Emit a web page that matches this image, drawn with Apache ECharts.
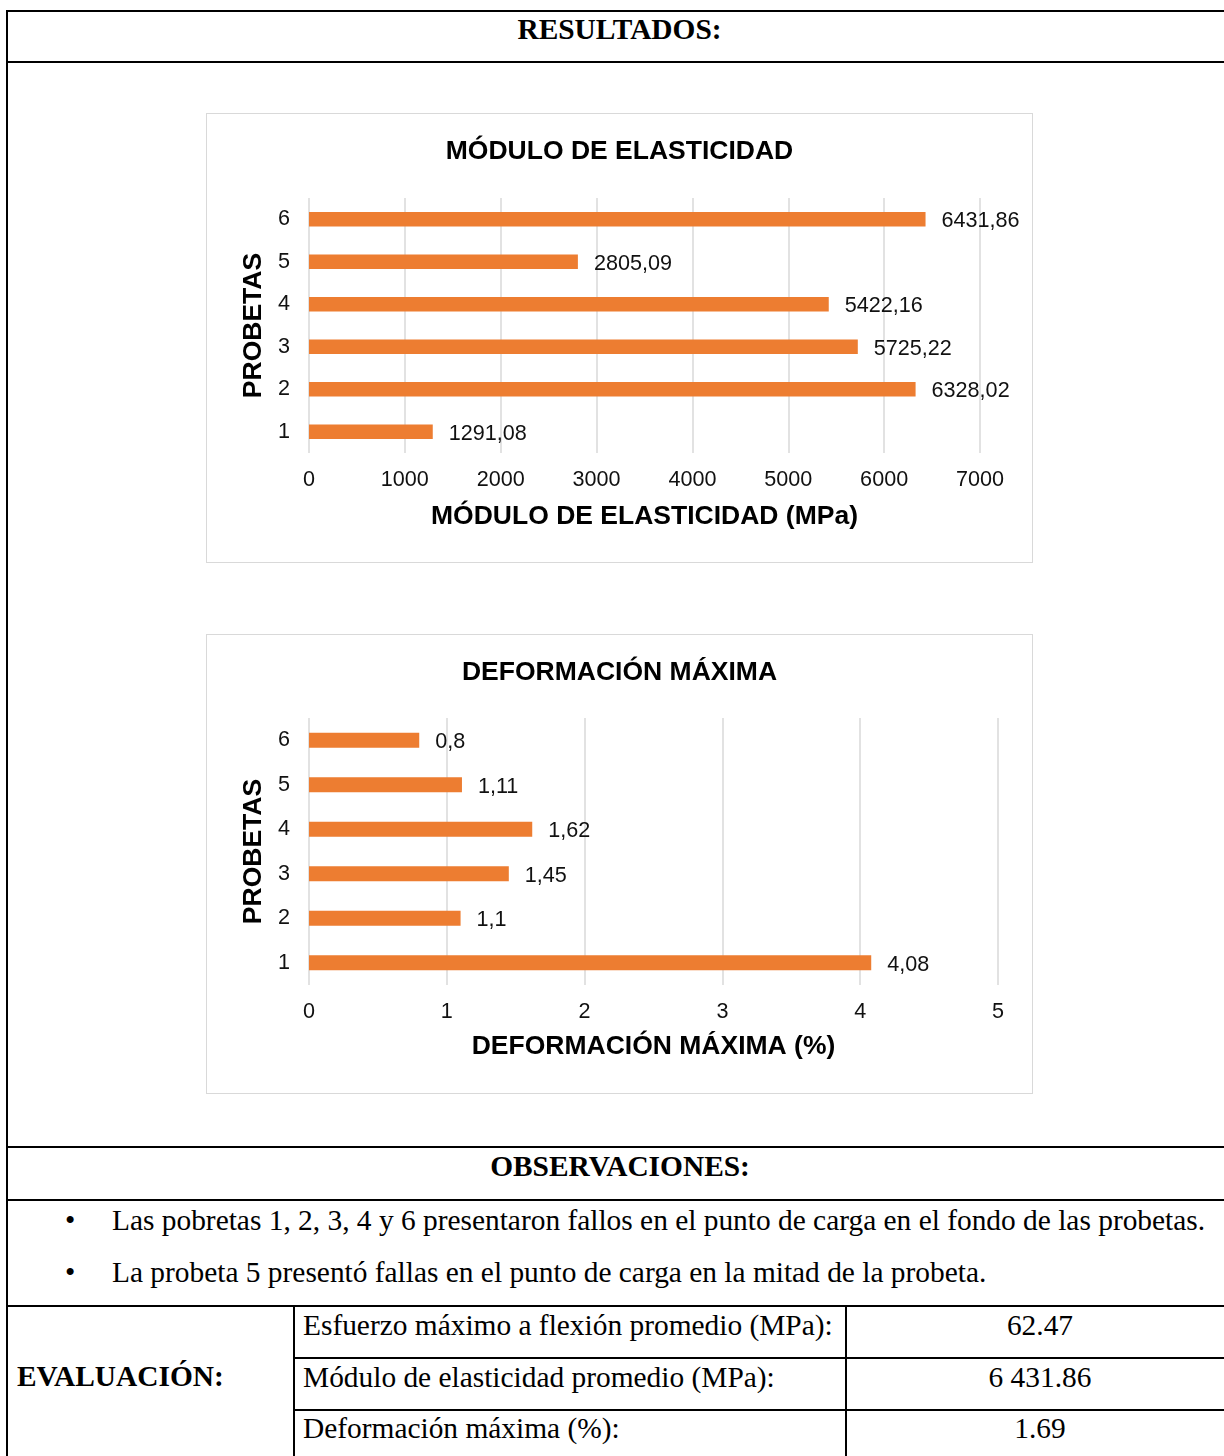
<!DOCTYPE html>
<html>
<head>
<meta charset="utf-8">
<script src="https://cdn.jsdelivr.net/npm/echarts@6/dist/echarts.min.js"></script>
<style>
  body { margin: 0; background: #fff; }
  #page { position: relative; width: 1224px; height: 1456px; overflow: hidden; font-family: "Liberation Serif", "Times New Roman", serif; color: #000; }
  .hl { position: absolute; height: 2px; background: #000; }
  .vl { position: absolute; width: 2px; background: #000; }
  .t { position: absolute; font-size: 29.4px; line-height: 32px; height: 32px; white-space: nowrap; }
  .b { font-weight: bold; }
  .box { position: absolute; border: 1.5px solid #d9d9d9; box-sizing: border-box; }
  .chart { position: absolute; }
</style>
</head>
<body>
<div id="page">
  <!-- table lines -->
  <div class="hl" style="left:6px;top:10px;width:1218px"></div>
  <div class="hl" style="left:6px;top:61px;width:1218px"></div>
  <div class="hl" style="left:6px;top:1146px;width:1218px"></div>
  <div class="hl" style="left:6px;top:1199px;width:1218px"></div>
  <div class="hl" style="left:6px;top:1305px;width:1218px"></div>
  <div class="hl" style="left:293px;top:1357px;width:931px"></div>
  <div class="hl" style="left:293px;top:1409px;width:931px"></div>
  <div class="vl" style="left:6px;top:10px;height:1446px"></div>
  <div class="vl" style="left:293px;top:1305px;height:151px"></div>
  <div class="vl" style="left:845px;top:1305px;height:151px"></div>

  <div class="t b" style="left:0;width:1239px;text-align:center;top:13px">RESULTADOS:</div>

  <div class="box" style="left:206px;top:113px;width:827px;height:450px"></div>
  <div id="modulo" class="chart" style="left:206px;top:113px;width:827px;height:449px"></div>

  <div class="box" style="left:206px;top:634px;width:827px;height:460px"></div>
  <div id="deform" class="chart" style="left:206px;top:634px;width:827px;height:459px"></div>

  <div class="t b" style="left:0;width:1240px;text-align:center;top:1150px">OBSERVACIONES:</div>
  <div class="t" style="left:65px;top:1204px">&bull;</div>
  <div class="t" style="left:112px;top:1204px">Las pobretas 1, 2, 3, 4 y 6 presentaron fallos en el punto de carga en el fondo de las probetas.</div>
  <div class="t" style="left:65px;top:1256px">&bull;</div>
  <div class="t" style="left:112px;top:1256px">La probeta 5 presentó fallas en el punto de carga en la mitad de la probeta.</div>

  <div class="t b" style="left:17px;top:1360px">EVALUACIÓN:</div>
  <div class="t" style="left:303px;top:1309px">Esfuerzo máximo a flexión promedio (MPa):</div>
  <div class="t" style="left:303px;top:1361px">Módulo de elasticidad promedio (MPa):</div>
  <div class="t" style="left:303px;top:1412px">Deformación máxima (%):</div>
  <div class="t" style="left:940px;width:200px;text-align:center;top:1309px">62.47</div>
  <div class="t" style="left:940px;width:200px;text-align:center;top:1361px">6 431.86</div>
  <div class="t" style="left:940px;width:200px;text-align:center;top:1412px">1.69</div>
</div>

<script>
// probetas, bottom to top
const probetas = ['1', '2', '3', '4', '5', '6']
const moduloValues = [1291.08, 6328.02, 5725.22, 5422.16, 2805.09, 6431.86]
const deformValues = [4.08, 1.1, 1.45, 1.62, 1.11, 0.8]

const FONT = '"Liberation Sans", Arial, sans-serif'
const ORANGE = '#ED7D31'

function barOption (title, axisName, cats, values, max, interval, grid, barWidth, nameGap) {
  return {
    animation: false,
    title: {
      text: title,
      left: 'center',
      top: 25,
      padding: 0,
      textStyle: {fontFamily: FONT, fontSize: 26.5, fontWeight: 'bold', color: '#000'}
    },
    grid: grid,
    xAxis: {
      type: 'value',
      min: 0,
      max: max,
      interval: interval,
      name: axisName,
      nameLocation: 'middle',
      nameGap: nameGap,
      nameTextStyle: {fontFamily: FONT, fontSize: 26.5, fontWeight: 'bold', color: '#000'},
      axisLine: {show: false},
      axisTick: {show: false},
      axisLabel: {fontFamily: FONT, fontSize: 21.6, color: '#111', margin: 16, formatter: (v) => String(v)},
      splitLine: {lineStyle: {color: '#d9d9d9', width: 1.5}}
    },
    yAxis: {
      type: 'category',
      data: cats,
      name: 'PROBETAS',
      nameLocation: 'middle',
      nameRotate: 90,
      nameGap: 36,
      nameTextStyle: {fontFamily: FONT, fontSize: 26.5, fontWeight: 'bold', color: '#000'},
      axisLine: {show: false},
      axisTick: {show: false},
      axisLabel: {fontFamily: FONT, fontSize: 21.6, color: '#111', margin: 19},
      splitLine: {show: false}
    },
    series: [{
      type: 'bar',
      data: values,
      barWidth: barWidth,
      itemStyle: {color: ORANGE},
      label: {
        show: true,
        position: 'right',
        distance: 16,
        offset: [0, 2],
        fontFamily: FONT,
        fontSize: 21.6,
        color: '#111',
        formatter: (p) => String(p.value).replace('.', ',')
      }
    }]
  }
}

const modulo = echarts.init(document.getElementById('modulo'))
modulo.setOption(barOption('MÓDULO DE ELASTICIDAD', 'MÓDULO DE ELASTICIDAD (MPa)',
  probetas, moduloValues, 7000, 1000, {left: 103, top: 85, width: 671, height: 255}, 14.5, 50))

const deform = echarts.init(document.getElementById('deform'))
deform.setOption(barOption('DEFORMACIÓN MÁXIMA', 'DEFORMACIÓN MÁXIMA (%)',
  probetas, deformValues, 5, 1, {left: 103, top: 84, width: 689, height: 267}, 15, 48))
</script>
</body>
</html>
